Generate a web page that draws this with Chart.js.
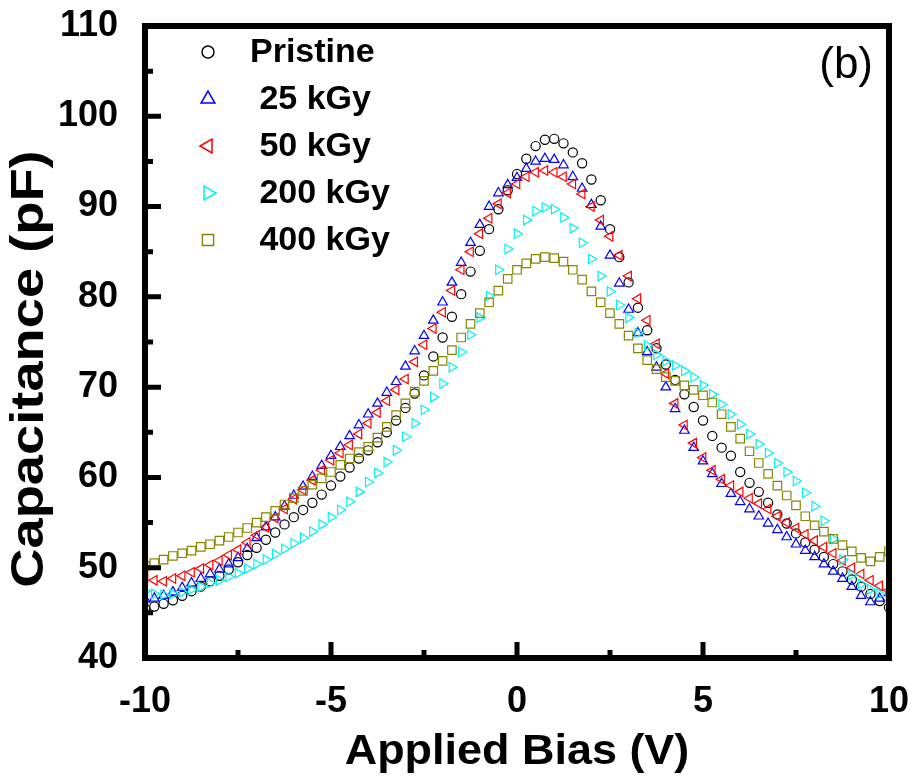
<!DOCTYPE html>
<html>
<head>
<meta charset="utf-8">
<script src="https://cdn.jsdelivr.net/npm/chart.js@4.4.1/dist/chart.umd.min.js"></script>
<style>
  html, body { margin: 0; padding: 0; background: #fff; }
  #wrap { width: 915px; height: 780px; }
</style>
</head>
<body>
<div id="wrap"><canvas id="chart" width="915" height="780"></canvas></div>
<script>
// ===== DATA (step 0.25 V) =====
const bias = [
  -10, -9.75, -9.5, -9.25, -9, -8.75, -8.5, -8.25, -8, -7.75, -7.5, -7.25, -7, -6.75, -6.5, -6.25,
  -6, -5.75, -5.5, -5.25, -5, -4.75, -4.5, -4.25, -4, -3.75, -3.5, -3.25, -3, -2.75, -2.5, -2.25,
  -2, -1.75, -1.5, -1.25, -1, -0.75, -0.5, -0.25, 0, 0.25, 0.5, 0.75, 1, 1.25, 1.5, 1.75,
  2, 2.25, 2.5, 2.75, 3, 3.25, 3.5, 3.75, 4, 4.25, 4.5, 4.75, 5, 5.25, 5.5, 5.75,
  6, 6.25, 6.5, 6.75, 7, 7.25, 7.5, 7.75, 8, 8.25, 8.5, 8.75, 9, 9.25, 9.5, 9.75, 10
];

const pristine = [
  45.5, 45.7, 46.0, 46.4, 46.9, 47.4, 47.9, 48.5, 49.1, 49.8, 50.6, 51.4, 52.2, 53.1, 53.9, 54.8,
  55.6, 56.4, 57.2, 58.1, 59.1, 60.1, 61.1, 62.1, 63.0, 63.9, 65.0, 66.3, 67.7, 69.3, 71.3, 73.4,
  75.5, 77.8, 80.3, 82.8, 85.1, 87.5, 89.7, 91.8, 93.6, 95.3, 96.7, 97.4, 97.5, 97.0, 96.0, 94.8,
  93.0, 90.7, 87.5, 84.4, 81.6, 78.8, 76.3, 74.3, 72.5, 70.8, 69.2, 67.8, 66.3, 64.6, 63.3, 62.4,
  60.6, 59.4, 58.4, 57.2, 55.9, 54.9, 53.8, 52.8, 52.0, 51.2, 50.4, 49.6, 48.7, 47.9, 47.1, 46.3, 45.6
];

const kGy25 = [
  46.5, 46.6, 46.9, 47.3, 47.8, 48.3, 48.8, 49.3, 49.8, 50.4, 51.1, 52.1, 53.3, 54.5, 55.6, 56.8,
  58.0, 59.0, 60.1, 61.3, 62.4, 63.4, 64.6, 65.8, 67.0, 68.2, 69.4, 70.6, 72.3, 74.0, 75.7, 77.4,
  79.4, 81.6, 83.8, 86.0, 88.0, 90.0, 91.5, 92.4, 93.2, 94.2, 95.0, 95.3, 95.2, 94.6, 93.3, 92.0,
  90.2, 87.8, 84.6, 81.5, 78.6, 76.0, 73.9, 72.2, 70.0, 67.6, 65.2, 63.3, 61.8, 60.4, 59.3, 58.2,
  57.3, 56.5, 55.7, 54.9, 54.2, 53.4, 52.6, 51.9, 51.2, 50.4, 49.6, 48.8, 47.9, 46.9, 46.2, 46.6, 47.2
];

const kGy50 = [
  49.0, 48.6, 48.5, 48.8, 49.1, 49.5, 49.9, 50.3, 50.8, 51.4, 52.0, 52.8, 53.6, 54.5, 55.5, 56.5,
  57.6, 58.6, 59.7, 60.8, 61.9, 62.7, 63.6, 64.8, 66.0, 67.2, 68.5, 69.7, 70.9, 72.8, 74.7, 76.5,
  78.3, 80.7, 83.0, 85.0, 87.0, 88.7, 90.3, 91.5, 92.5, 93.3, 93.8, 94.0, 93.8, 93.3, 92.5, 91.4,
  90.0, 88.5, 86.7, 84.6, 82.3, 79.8, 77.4, 74.8, 71.5, 68.2, 65.8, 63.8, 62.2, 60.8, 59.8, 59.1,
  58.4, 57.7, 57.1, 56.5, 55.7, 55.0, 54.4, 53.7, 53.0, 52.3, 51.6, 50.8, 50.0, 49.3, 48.6, 48.0, 47.5
];

const kGy200 = [
  47.4, 47.1, 47.0, 47.1, 47.3, 47.6, 47.9, 48.3, 48.6, 49.0, 49.4, 49.9, 50.4, 50.9, 51.5, 52.1,
  52.7, 53.3, 54.0, 54.8, 55.6, 56.4, 57.3, 58.4, 59.5, 60.5, 61.7, 63.0, 64.5, 66.0, 67.5, 68.9,
  70.4, 72.2, 73.9, 75.8, 77.7, 80.1, 83.0, 85.3, 87.0, 88.5, 89.5, 89.9, 89.7, 88.8, 87.6, 86.0,
  84.2, 82.3, 80.6, 79.1, 77.7, 76.0, 74.6, 73.6, 72.9, 72.4, 71.8, 71.1, 70.2, 69.2, 68.1, 67.0,
  65.9, 64.8, 63.7, 62.7, 61.6, 60.6, 59.6, 58.3, 56.8, 55.2, 53.2, 50.9, 49.2, 48.2, 47.6, 47.1, 46.8
];

const kGy400 = [
  50.2, 50.5, 50.9, 51.3, 51.6, 51.9, 52.3, 52.6, 53.0, 53.4, 53.9, 54.4, 55.0, 55.6, 56.3, 57.0,
  57.7, 58.5, 59.2, 59.9, 60.6, 61.4, 62.1, 62.8, 63.4, 64.4, 65.6, 66.9, 68.2, 69.5, 70.7, 71.8,
  72.9, 74.1, 75.5, 77.0, 78.2, 79.4, 80.7, 82.0, 83.0, 83.7, 84.2, 84.4, 84.3, 83.9, 83.0, 81.9,
  80.6, 79.4, 78.2, 77.0, 75.7, 74.3, 73.0, 72.0, 71.1, 70.7, 70.2, 69.7, 69.1, 68.3, 67.0, 65.6,
  64.3, 62.9, 61.6, 60.4, 59.1, 58.0, 56.9, 55.7, 54.7, 54.0, 53.2, 52.5, 51.8, 51.1, 50.7, 51.2, 51.8
];

const seriesNames = ["Pristine", "25 kGy", "50 kGy", "200 kGy", "400 kGy"];
const xTicks = [-10, -5, 0, 5, 10];
const xMinorTicks = [-7.5, -2.5, 2.5, 7.5];
const yTicks = [40, 50, 60, 70, 80, 90, 100, 110];
const yMinorTicks = [45, 55, 65, 75, 85, 95, 105];

const FONT = '"Liberation Sans", Arial, sans-serif';

// marker looks: colour, Chart.js point style, rotation
const looks = [
  { color: "#000000", style: "circle", rot: 0, r: 4.6 },
  { color: "#0000ff", style: "triangle", rot: 0, r: 5.5 },
  { color: "#ff0000", style: "triangle", rot: -90, r: 5.5 },
  { color: "#00f2f2", style: "triangle", rot: 90, r: 5.5 },
  { color: "#868600", style: "rect", rot: 0, r: 6 }
];

const allValues = [pristine, kGy25, kGy50, kGy200, kGy400];

const datasets = allValues.map((vals, i) => ({
  label: seriesNames[i],
  data: bias.map((b, j) => ({ x: b, y: vals[j] })),
  showLine: false,
  pointStyle: looks[i].style,
  rotation: looks[i].rot,
  pointRadius: looks[i].r,
  pointBorderWidth: 1.2,
  borderColor: looks[i].color,
  backgroundColor: "rgba(0,0,0,0)",
  clip: 0,
  order: 5 - i
}));

// draw one legend marker by hand
function drawMarker(ctx, style, rot, x, y, r) {
  ctx.beginPath();
  if (style === "circle") {
    ctx.arc(x, y, r, 0, Math.PI * 2);
  } else if (style === "rect") {
    ctx.rect(x - r * 0.7, y - r * 0.7, r * 1.4, r * 1.4);
  } else {
    const a0 = rot * Math.PI / 180;
    for (let k = 0; k < 3; k++) {
      const a = a0 + k * 2 * Math.PI / 3 - Math.PI / 2;
      const px = x + Math.cos(a) * r, py = y + Math.sin(a) * r;
      k === 0 ? ctx.moveTo(px, py) : ctx.lineTo(px, py);
    }
    ctx.closePath();
  }
  ctx.stroke();
}

// stretched text (the original titles are a bit wider than the plain font)
function stretchedText(ctx, text, x, y, rot, sx) {
  ctx.save();
  ctx.translate(x, y);
  ctx.rotate(rot);
  ctx.scale(sx, 1);
  ctx.fillText(text, 0, 0);
  ctx.restore();
}

// frame, inward ticks, titles, legend and panel label
const decorPlugin = {
  id: "decor",
  afterDraw(chart) {
    const { ctx, chartArea: a, scales: { x, y } } = chart;
    ctx.save();
    ctx.strokeStyle = "#000";
    ctx.lineCap = "butt";

    ctx.lineWidth = 5;
    ctx.beginPath();
    xTicks.forEach(v => {
      const px = x.getPixelForValue(v);
      ctx.moveTo(px, a.bottom); ctx.lineTo(px, a.bottom - 16);
    });
    xMinorTicks.forEach(v => {
      const px = x.getPixelForValue(v);
      ctx.moveTo(px, a.bottom); ctx.lineTo(px, a.bottom - 8);
    });
    yTicks.forEach(v => {
      const py = y.getPixelForValue(v);
      ctx.moveTo(a.left, py); ctx.lineTo(a.left + 16, py);
    });
    yMinorTicks.forEach(v => {
      const py = y.getPixelForValue(v);
      ctx.moveTo(a.left, py); ctx.lineTo(a.left + 8, py);
    });
    ctx.stroke();

    ctx.lineWidth = 6;
    ctx.strokeRect(a.left, a.top, a.right - a.left, a.bottom - a.top);

    // axis titles
    ctx.fillStyle = "#000";
    ctx.textAlign = "center";
    ctx.textBaseline = "middle";
    ctx.font = "bold 42px " + FONT;
    stretchedText(ctx, "Applied Bias (V)", (a.left + a.right) / 2, 752, 0, 1.07);
    ctx.font = "bold 46px " + FONT;
    stretchedText(ctx, "Capacitance (pF)", 30, 369, -Math.PI / 2, 1.18);

    // legend
    ctx.font = "bold 34px " + FONT;
    ctx.textAlign = "left";
    seriesNames.forEach((name, i) => {
      const ly = 52 + i * 47;
      ctx.strokeStyle = looks[i].color;
      ctx.lineWidth = 1.5;
      drawMarker(ctx, looks[i].style, looks[i].rot, 208, ly, looks[i].style === "circle" ? 6 : 8);
      ctx.fillStyle = "#000";
      ctx.fillText(i === 0 ? name : " " + name, 250, ly + 1);
    });

    ctx.font = "44px " + FONT;
    ctx.textAlign = "right";
    ctx.fillText("(b)", 873, 66);
    ctx.restore();
  }
};

new Chart(document.getElementById("chart"), {
  type: "scatter",
  data: { datasets },
  options: {
    responsive: false,
    devicePixelRatio: 1,
    animation: false,
    layout: { padding: { top: 26, right: 26, left: 0, bottom: 0 } },
    plugins: { legend: { display: false }, tooltip: { enabled: false } },
    scales: {
      x: {
        type: "linear",
        min: -10,
        max: 10,
        afterFit(scale) {
          scale.height = 122;
          scale.paddingLeft = 0;
          scale.paddingRight = 0;
        },
        afterBuildTicks(scale) { scale.ticks = xTicks.map(v => ({ value: v })); },
        grid: { display: false, drawTicks: false },
        border: { display: false },
        ticks: {
          color: "#000",
          padding: 22,
          maxRotation: 0,
          autoSkip: false,
          font: { family: FONT, size: 36, weight: "bold" },
          callback: v => String(v)
        }
      },
      y: {
        type: "linear",
        min: 40,
        max: 110,
        afterFit(scale) {
          scale.width = 145;
          scale.paddingTop = 0;
          scale.paddingBottom = 0;
        },
        afterBuildTicks(scale) { scale.ticks = yTicks.map(v => ({ value: v })); },
        grid: { display: false, drawTicks: false },
        border: { display: false },
        ticks: {
          color: "#000",
          padding: 27,
          autoSkip: false,
          font: { family: FONT, size: 36, weight: "bold" },
          callback: v => String(v)
        }
      }
    }
  },
  plugins: [decorPlugin]
});
</script>
</body>
</html>
